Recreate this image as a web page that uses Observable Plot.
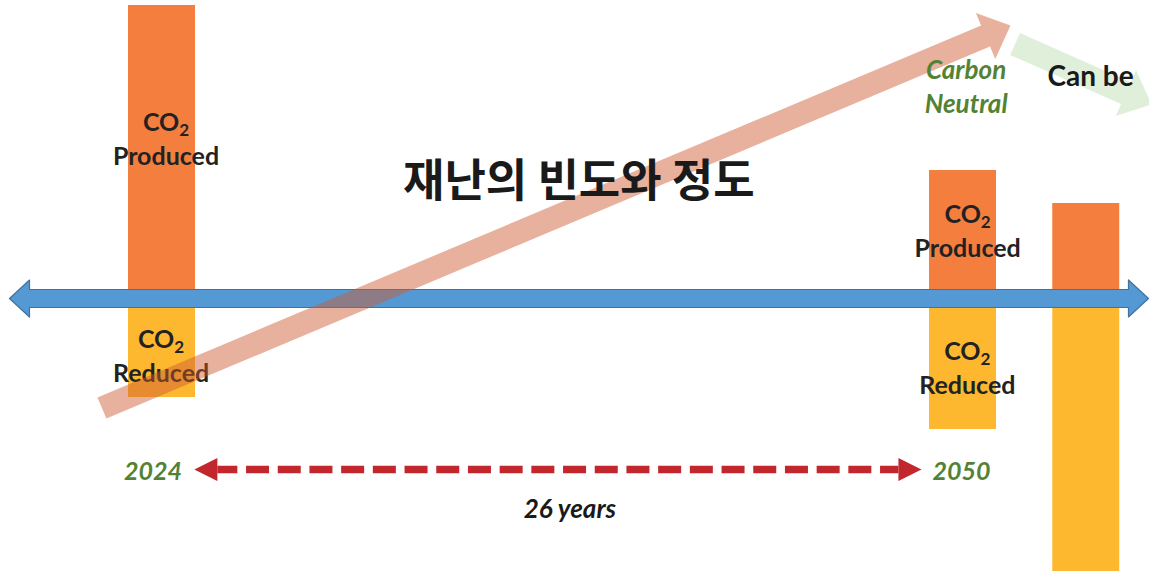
<!DOCTYPE html>
<html><head><meta charset="utf-8">
<script src="https://cdn.jsdelivr.net/npm/d3@7"></script>
<script src="https://cdn.jsdelivr.net/npm/@observablehq/plot@0.6"></script>
<style>html,body{margin:0;padding:0;background:#fff;} #chart svg{display:block;}</style>
</head><body><div id="chart"></div>
<script>
// ---- data ----
const years = [2024, 2050, 2054];
const produced = [28.4, 11.9, 8.6];
const reduced = [9.0, 12.2, 26.4];

const barLabelX = [2024.13, 2023.97, 2050.15, 2050.14];
const barLabelY = [13.4, -8.3, 4.2, -9.5];
const barLabelText = ["CO₂\nProduced", "CO₂\nReduced", "CO₂\nProduced", "CO₂\nReduced"];

const yearLabelText = ["2024", "2050"];
const yearLabelX = [2023.71, 2049.95];
const yearLabelY = [-18.1, -18.1];

const spanLabel = ["26 years"];
const spanLabelX = [2037.24];
const spanLabelY = [-21.9];

const titleText = ["재난의 빈도와 정도"];
const titleX = [2037.53];
const titleY = [10.2];

const neutralText = ["Carbon\nNeutral"];
const neutralX = [2050.1];
const neutralY = [18.6];

const canBeText = ["Can be"];
const canBeX = [2054.14];
const canBeY = [21.3];

// arrows: [year, value] from -> to
const axisArrow = [[2019.05, 0], [2056.02, 0]];
const trendArrow = [[2022.05, -10.95], [2051.54, 27.3]];
const canBeArrow = [[2051.69, 25.45], [2056.12, 19.4]];
const spanArrow = [[2025.05, -17.1], [2048.65, -17.1]];

// ---- scales ----
const W = 1149, H = 573;
const xDomain = [2018.758, 2056.053];
const yDomain = [-27.5, 29.8];
const sx = Plot.scale({x: {domain: xDomain, range: [0, W]}});
const sy = Plot.scale({y: {domain: yDomain, range: [H, 0]}});
const gap = 0.9; // half thickness of axis in value units
const halfBar = 1.087;

function geom(from, to) {
  const ax = sx.apply(from[0]), ay = sy.apply(from[1]);
  const bx = sx.apply(to[0]), by = sy.apply(to[1]);
  const len = Math.hypot(bx - ax, by - ay);
  const ux = (bx - ax) / len, uy = (by - ay) / len, nx = -uy, ny = ux;
  const P = (t, s) => ({x: sx.invert(ax + ux * t + nx * s), y: sy.invert(ay + uy * t + ny * s)});
  return {len, P};
}
function arrowPoly(from, to, o) {
  const {len, P} = geom(from, to);
  const w = o.w / 2, h = o.hw / 2, L = o.hl;
  if (o.double) return [P(0,0), P(L,h), P(L,w), P(len-L,w), P(len-L,h), P(len,0), P(len-L,-h), P(len-L,-w), P(L,-w), P(L,-h), P(0,0)];
  return [P(0,w), P(len-L,w), P(len-L,h), P(len,0), P(len-L,-h), P(len-L,-w), P(0,-w), P(0,w)];
}
function dashedParts(from, to, o) {
  const {len, P} = geom(from, to);
  const h = o.hw / 2, L = o.hl;
  return {
    heads: [
      ...[P(0,0), P(L,h), P(L,-h), P(0,0)].map(d => ({...d, k: "a"})),
      ...[P(len,0), P(len-L,h), P(len-L,-h), P(len,0)].map(d => ({...d, k: "b"}))
    ],
    shaft: [P(L,0), P(len-L,0)]
  };
}

const bars = years.map((yr, i) => ({yr, p: produced[i], r: reduced[i]}));
const barLabels = barLabelText.map((t, i) => ({t, x: barLabelX[i], y: barLabelY[i]}));
const yearLabels = yearLabelText.map((t, i) => ({t, x: yearLabelX[i], y: yearLabelY[i]}));

const axisPoly = arrowPoly(axisArrow[0], axisArrow[1], {w: 18, hw: 37, hl: 20, double: true});
const trendPoly = arrowPoly(trendArrow[0], trendArrow[1], {w: 23, hw: 50, hl: 27});
const canBePoly = arrowPoly(canBeArrow[0], canBeArrow[1], {w: 24, hw: 50, hl: 28});
const span = dashedParts(spanArrow[0], spanArrow[1], {hw: 23, hl: 23});

const FONT = "Lato, 'Noto Sans', sans-serif";
const GREEN = "#548235";

const chart = Plot.plot({
  width: W, height: H,
  marginTop: 0, marginRight: 0, marginBottom: 0, marginLeft: 0,
  x: {domain: xDomain, range: [0, W], axis: null},
  y: {domain: yDomain, range: [H, 0], axis: null},
  style: {background: "#fff", overflow: "visible"},
  marks: [
    Plot.rect(bars, {x1: d => d.yr - halfBar, x2: d => d.yr + halfBar, y1: gap, y2: d => gap + d.p, fill: "#F47E3E"}),
    Plot.rect(bars, {x1: d => d.yr - halfBar, x2: d => d.yr + halfBar, y1: -gap, y2: d => -gap - d.r, fill: "#FDB830"}),
    Plot.line(axisPoly, {x: "x", y: "y", fill: "#5599D4", stroke: "#41719C", strokeWidth: 1.2, curve: "linear"}),
    Plot.text(barLabels, {x: "x", y: "y", text: "t", textAnchor: "middle", lineAnchor: "bottom", lineHeight: 1.36,
      fontSize: 25, fontWeight: "bold", fontFamily: FONT, fill: "#222", className: "co2"}),
    Plot.line(trendPoly, {x: "x", y: "y", fill: "#CD592E", fillOpacity: 0.47, stroke: "none", curve: "linear"}),
    Plot.line(canBePoly, {x: "x", y: "y", fill: "#E0EFD9", stroke: "none", curve: "linear"}),
    Plot.text(titleText, {x: titleX, y: titleY, text: d => d, textAnchor: "middle", lineAnchor: "bottom",
      fontSize: 45, fontWeight: "bold", fontFamily: "'Noto Sans CJK KR', sans-serif", fill: "#1a1a1a"}),
    Plot.text(neutralText, {x: neutralX, y: neutralY, text: d => d, textAnchor: "middle", lineAnchor: "bottom", lineHeight: 1.3,
      fontSize: 26, fontWeight: "bold", fontStyle: "italic", fontFamily: FONT, fill: GREEN}),
    Plot.text(canBeText, {x: canBeX, y: canBeY, text: d => d, textAnchor: "middle", lineAnchor: "bottom",
      fontSize: 28, fontWeight: "bold", fontFamily: FONT, fill: "#1a1a1a"}),
    Plot.line(span.shaft, {x: "x", y: "y", stroke: "#C1272D", strokeWidth: 7.5, strokeDasharray: "23,8.7", strokeDashoffset: 3, strokeLinecap: "butt", curve: "linear"}),
    Plot.line(span.heads, {x: "x", y: "y", z: "k", fill: "#C1272D", stroke: "none", curve: "linear"}),
    Plot.text(yearLabels, {x: "x", y: "y", text: "t", textAnchor: "middle", lineAnchor: "bottom",
      fontSize: 25, fontWeight: "bold", fontStyle: "italic", fontFamily: FONT, fill: GREEN}),
    Plot.text(spanLabel, {x: spanLabelX, y: spanLabelY, text: d => d, textAnchor: "middle", lineAnchor: "bottom",
      fontSize: 26, fontWeight: "bold", fontStyle: "italic", fontFamily: FONT, fill: "#1a1a1a"})
  ]
});
// render CO₂ subscripts as real lowered, smaller digits
chart.querySelectorAll("tspan").forEach(ts => {
  if (ts.textContent === "CO₂") {
    ts.textContent = "CO";
    const sub = document.createElementNS("http://www.w3.org/2000/svg", "tspan");
    sub.setAttribute("font-size", "0.68em");
    sub.setAttribute("baseline-shift", "-0.3em");
    sub.textContent = "2";
    ts.appendChild(sub);
  }
});
document.getElementById("chart").appendChild(chart);
</script>
</body></html>
